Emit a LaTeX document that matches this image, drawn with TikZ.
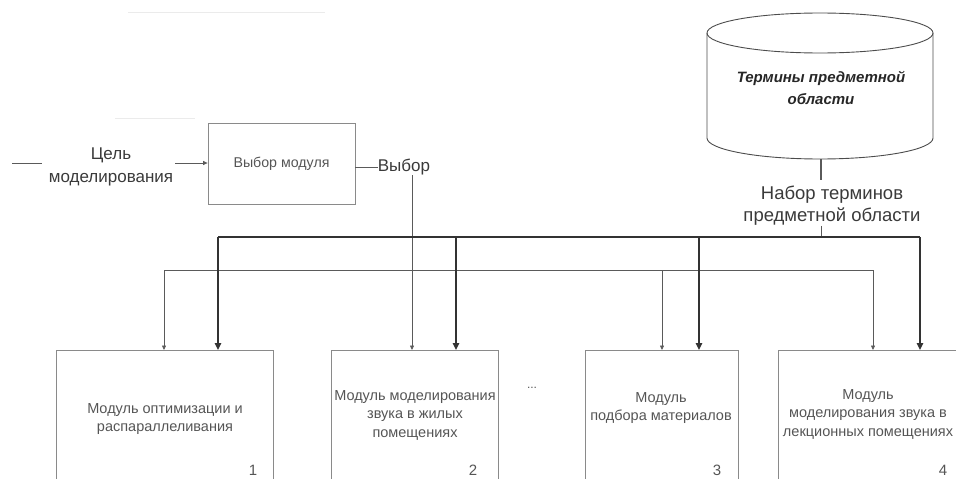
\documentclass[tikz,border=0pt]{standalone}
\usepackage{fontspec}
\setmainfont{Liberation Sans}
\usetikzlibrary{arrows.meta}
\definecolor{boxline}{HTML}{8A8A8A}
\definecolor{boxtext}{HTML}{555555}
\definecolor{labeltext}{HTML}{3A3A3A}
\definecolor{thickline}{HTML}{333333}
\definecolor{thinline}{HTML}{5A5A5A}
\begin{document}
\begin{tikzpicture}[x=1pt,y=-1pt,
  mbox/.style={draw=boxline, line width=0.8pt, rectangle, inner sep=0pt, anchor=north west},
  btext/.style={text=boxtext, align=center, font=\fontsize{14.5}{18.5}\selectfont, inner sep=0pt},
  bignum/.style={text=boxtext, font=\fontsize{15}{17}\selectfont, inner sep=0pt},
  biglabel/.style={text=labeltext, align=center, font=\fontsize{17}{23}\selectfont, inner sep=0pt},
  busline/.style={draw=thickline, line width=1.5pt},
  busarrow/.style={draw=thickline, line width=1.5pt, -{Triangle[length=7pt,width=6.5pt]}},
  thinbus/.style={draw=thinline, line width=0.7pt},
  thinarrow/.style={draw=thinline, line width=0.7pt, -{Triangle[length=4.5pt,width=4pt]}},
  faint/.style={draw=black!8, line width=1pt}
]
\useasboundingbox (0,0) rectangle (956,479);
\clip (0,0) rectangle (956,479);

% faint remnants
\draw[faint] (128,12) -- (325,12);
\draw[faint] (115,118) -- (195,118);

% database cylinder
\draw[draw=black!70, line width=0.9pt] (707,33) -- (707,138) arc[start angle=180, end angle=0, x radius=113, y radius=21] -- (933,33);
\draw[draw=black!70, line width=0.9pt] (820,33) ellipse[x radius=113, y radius=20];
\node[text=black!85, align=center, inner sep=0pt, font=\fontsize{15}{22}\selectfont\bfseries\itshape] (db) at (821,88) {Термины предметной\\области};
\coordinate (dbbot) at (821,159);

% set of terms label
\node[biglabel, font=\fontsize{18.5}{22}\selectfont] (terms) at (832,206) {Набор терминов\\предметной области};
\coordinate (termtop) at (821,180);
\draw[thinbus, line width=1.2pt] (dbbot) -- (termtop);
\coordinate (busL) at (218,237);
\coordinate (busR) at (920,237);
\draw[thinbus, line width=1pt] (terms.south -| dbbot) -- (dbbot |- busL);

% goal
\node[biglabel] (goal) at (111,167) {Цель\\моделирования};
\coordinate (goalin) at (12,163);
\draw[thinbus] (goalin) -- (42,163);
\node[draw=boxline, line width=0.8pt, rectangle, minimum width=147pt, minimum height=81pt, inner sep=0pt,
      text=boxtext, font=\fontsize{14.2}{15}\selectfont] (sel) at (281.5,163.5) {Выбор модуля};
\draw[thinarrow] (175,163) -- (sel.west |- 0,163);

% choice
\node[biglabel] (choice) at (404,167) {Выбор};
\draw[thinbus] (sel.east |- 0,167) -- (choice.west);

% module boxes
\node[mbox, minimum width=217pt, minimum height=150pt] (m1) at (56,350) {};
\node[mbox, minimum width=167pt, minimum height=150pt] (m2) at (331,350) {};
\node[mbox, minimum width=153pt, minimum height=150pt] (m3) at (585,350) {};
\node[mbox, minimum width=200pt, minimum height=150pt] (m4) at (778,350) {};

\node[btext] (t1) at (165,419) {Модуль оптимизации и\\распараллеливания};
\node[btext] (t2) at (415,415) {Модуль моделирования\\звука в жилых\\помещениях};
\node[btext] (t3) at (661,408) {Модуль\\подбора материалов};
\node[btext] (t4) at (868,414) {Модуль\\моделирования звука в\\лекционных помещениях};

\node[bignum] (n1) at (253,470) {1};
\node[bignum] (n2) at (473,470) {2};
\node[bignum] (n3) at (717,470) {3};
\node[bignum] (n4) at (943,470) {4};

\node[text=boxtext, font=\fontsize{12}{14}\selectfont, inner sep=0pt] (dots) at (532,388) {...};

% thin bus from choice
\coordinate (tbL) at (164,270);
\coordinate (tbR) at (873,270);
\draw[thinarrow] (choice.south -| 412,0) -- (412,0 |- m2.north);
\draw[thinbus] (tbL) -- (tbR);
\draw[thinarrow] (tbL) -- (tbL |- m1.north);
\draw[thinarrow] (662,270) -- (662,0 |- m3.north);
\draw[thinarrow] (tbR) -- (tbR |- m4.north);

% thick bus from terms
\draw[busline] (busL) -- (busR);
\draw[busarrow] (busL) -- (busL |- m1.north);
\draw[busarrow] (456,237) -- (456,0 |- m2.north);
\draw[busarrow] (699,237) -- (699,0 |- m3.north);
\draw[busarrow] (busR) -- (busR |- m4.north);
\end{tikzpicture}
\end{document}
